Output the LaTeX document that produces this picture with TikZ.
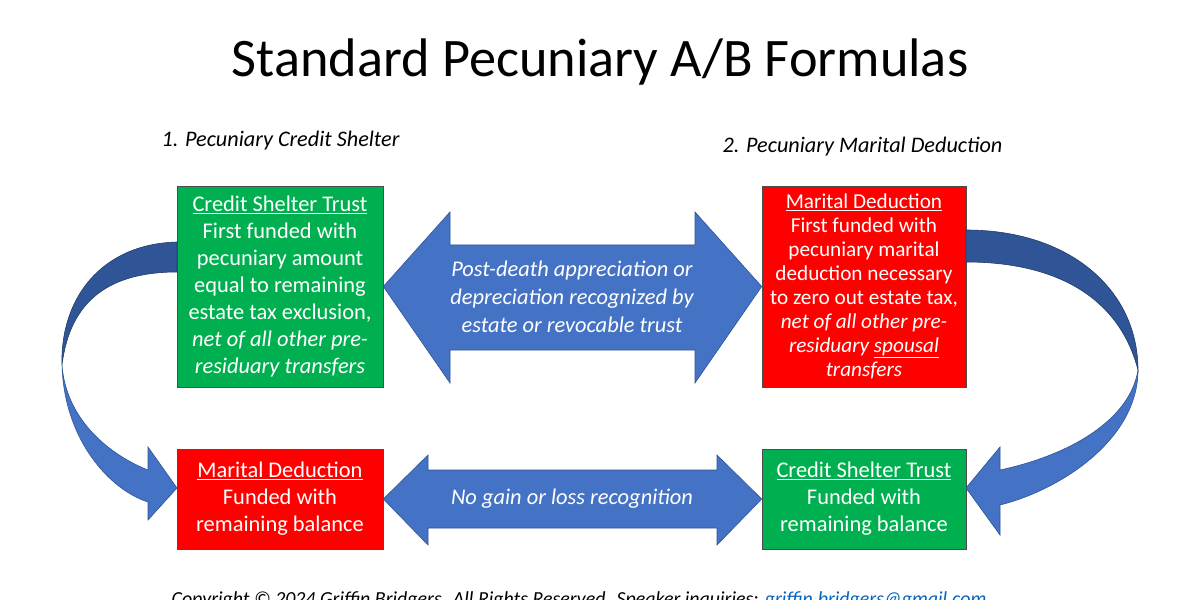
\documentclass[tikz,border=0pt]{standalone}
\usepackage{fontspec}
\setmainfont{Carlito}
\begin{document}
\begin{tikzpicture}[x=1bp,y=-1bp,
 box/.style={draw=black!70,line width=0.6bp,minimum width=206bp,align=center,text=white,font=\fontsize{22.5}{27}\selectfont,inner sep=0pt},
 arr/.style={fill=blueA,draw=blueD,line width=0.6bp},
 lab/.style={font=\fontsize{22.5}{28}\selectfont\itshape,text=white,align=center}]
\definecolor{greenB}{HTML}{00B050}\definecolor{redB}{HTML}{FF0000}
\definecolor{blueA}{HTML}{4472C4}\definecolor{blueD}{HTML}{2F5597}
\definecolor{linkc}{HTML}{0563C1}
\clip (0,0) rectangle (1200,600);
\useasboundingbox (0,0) rectangle (1200,600);
\node (title) at (600,62) {\fontsize{54.5}{60}\selectfont Standard Pecuniary A/B Formulas};
\node[anchor=west] (l1) at (158,141) {\fontsize{22.3}{26}\selectfont\itshape 1. Pecuniary Credit Shelter};
\node[anchor=west] (l2) at (719,147) {\fontsize{22.3}{26}\selectfont\itshape 2. Pecuniary Marital Deduction};
% boxes
\node[box,fill=greenB,minimum height=201bp] (cst) at (280,286.5) {\underline{Credit Shelter Trust}\\First funded with\\pecuniary amount\\equal to remaining\\estate tax exclusion,\\\textit{net of all other pre-}\\\textit{residuary transfers}};
\node[box,fill=redB,minimum height=201bp,minimum width=204bp,font=\fontsize{21.3}{24}\selectfont] (md) at (864,286.5) {\underline{Marital Deduction}\\First funded with\\pecuniary marital\\deduction necessary\\to zero out estate tax,\\\textit{net of all other pre-}\\\textit{residuary \underline{spousal}}\\\textit{transfers}};
\node[box,fill=redB,minimum height=100bp] (md2) at (280,499) {\underline{Marital Deduction}\\Funded with\\remaining balance};
\node[box,fill=greenB,minimum height=100bp,minimum width=204bp] (cst2) at (864,499) {\underline{Credit Shelter Trust}\\Funded with\\remaining balance};
% top double arrow
\draw[arr] (cst.east) -- (450,212) -- (450,245) -- (695,245) -- (695,212) -- (md.west) -- (695,383) -- (695,350) -- (450,350) -- (450,383) -- cycle;
\node[lab] (t1) at (572,297) {Post-death appreciation or\\depreciation recognized by\\estate or revocable trust};
% bottom double arrow
\draw[arr] (md2.east) -- (428,455) -- (428,470) -- (717,470) -- (717,455) -- (cst2.west) -- (717,545) -- (717,528) -- (428,528) -- (428,545) -- cycle;
\node[lab] (t2) at (572,499) {No gain or loss recognition};
% left curved arrow
\draw[fill=blueD,draw=blueD!70!black,line width=0.6bp] (177,242) .. controls (100,244) and (60,300) .. (62,365) .. controls (70,300) and (110,272) .. (177,272) -- cycle;
\draw[arr] (62,365) .. controls (64,440) and (110,490) .. (148,502) -- (148,520) -- (177,488) -- (148,447) -- (148,470) .. controls (110,455) and (66,420) .. (62,365) -- cycle;
% right curved arrow
\draw[fill=blueD,draw=blueD!70!black,line width=0.6bp] (966,230) .. controls (1070,230) and (1138,290) .. (1138,370) .. controls (1120,300) and (1060,262) .. (966,262) -- cycle;
\draw[arr] (1138,370) .. controls (1138,440) and (1060,490) .. (1000,505) -- (1000,535) -- (966,488) -- (1000,447) -- (1000,470) .. controls (1070,455) and (1130,420) .. (1138,370) -- cycle;
\node (copy) at (579,601) {\fontsize{20}{24}\selectfont\itshape Copyright © 2024 Griffin Bridgers. All Rights Reserved. Speaker inquiries: \textcolor{linkc}{\underline{griffin.bridgers@gmail.com}}};
\end{tikzpicture}
\end{document}
